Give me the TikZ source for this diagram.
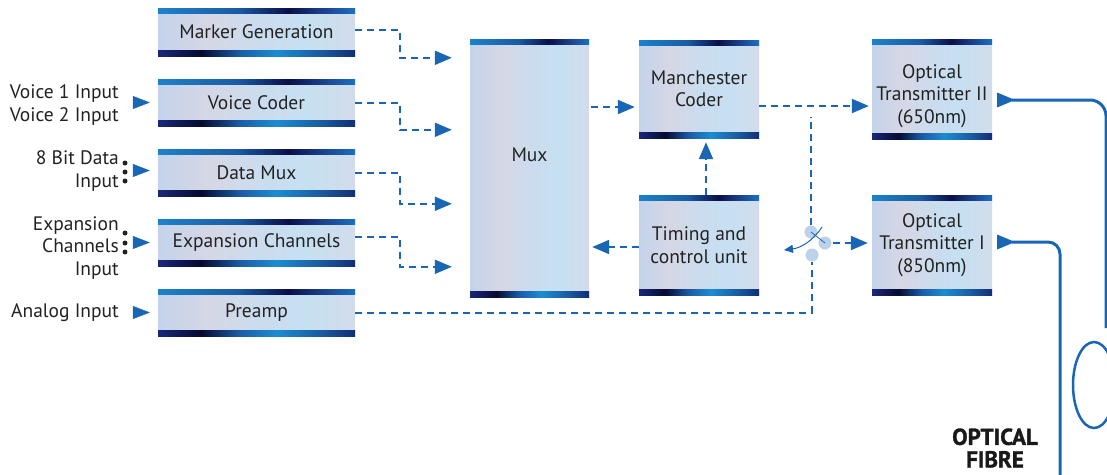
\documentclass[tikz,border=0pt]{standalone}
\usepackage{fontspec}
\setmainfont{PT Sans}
\newfontfamily\heavyfont{PT Sans}[BoldFeatures={FakeBold=1.4}]
\usetikzlibrary{arrows.meta,calc}
\definecolor{lineblue}{HTML}{1866B4}
\definecolor{textgray}{HTML}{222222}
\definecolor{swblue}{HTML}{BCD2EA}
\definecolor{tbA}{HTML}{1C82CA}
\definecolor{tbB}{HTML}{1A5CA4}
\definecolor{tbC}{HTML}{0A0F48}
\definecolor{tbD}{HTML}{1A3C86}
\definecolor{tbE}{HTML}{1C70C2}
\definecolor{bbA}{HTML}{1A2878}
\definecolor{bbB}{HTML}{060A30}
\definecolor{bbC}{HTML}{1A5EA8}
\definecolor{bbD}{HTML}{1C8CD2}
\definecolor{bbE}{HTML}{1A5CA0}
\definecolor{bbF}{HTML}{122E74}
\definecolor{bdA}{HTML}{C4D3EA}
\definecolor{bdB}{HTML}{D6D7E5}
\definecolor{bdC}{HTML}{CBDCEE}
\definecolor{bdD}{HTML}{C6E0F2}
\definecolor{bdE}{HTML}{D2DCEB}
\pgfdeclarehorizontalshading{topbar}{100bp}{color(0bp)=(tbA); color(25bp)=(tbA); color(45bp)=(tbB); color(58bp)=(tbC); color(66bp)=(tbD); color(75bp)=(tbE); color(100bp)=(tbE)}
\pgfdeclarehorizontalshading{botbar}{100bp}{color(0bp)=(bbA); color(25bp)=(bbA); color(36bp)=(bbB); color(46bp)=(bbC); color(55bp)=(bbD); color(66bp)=(bbE); color(75bp)=(bbF); color(100bp)=(bbF)}
\pgfdeclarehorizontalshading{boxbody}{100bp}{color(0bp)=(bdA); color(25bp)=(bdA); color(38bp)=(bdB); color(50bp)=(bdC); color(62bp)=(bdD); color(75bp)=(bdE); color(100bp)=(bdE)}
\tikzset{
  box/.style={shading=boxbody, inner sep=0pt, text=textgray, align=center,
    font=\fontsize{19.5}{22.5}\selectfont,
    path picture={
      \fill[shading=topbar] (path picture bounding box.north west) rectangle ([yshift=-5.5pt]path picture bounding box.north east);
      \fill[shading=botbar] ([yshift=5.5pt]path picture bounding box.south west) rectangle (path picture bounding box.south east);
    }},
  lbox/.style={box, minimum width=197pt, minimum height=47pt},
  dline/.style={draw=lineblue, line width=2pt, dash pattern=on 7pt off 5pt},
  darrow/.style={dline, -{Triangle[length=17pt,width=14pt]}},
  intip/.style={draw=lineblue, fill=lineblue, line width=0.4pt, -{Triangle[length=17pt,width=13pt]}},
  intext/.style={text=textgray, font=\fontsize{19.5}{22.5}\selectfont, inner sep=0pt},
  fibre/.style={draw=lineblue, line width=3pt},
  swc/.style={circle, fill=swblue, minimum size=13pt, inner sep=0pt},
  dot/.style={circle, fill=textgray, minimum size=5pt, inner sep=0pt}
}
\begin{document}
\begin{tikzpicture}[x=1pt,y=-1pt]
\useasboundingbox (0,0) rectangle (1107,474);
\clip (0,0) rectangle (1107,474);
% left column
\node[lbox, minimum height=48pt] (mg) at (256.5,32) {Marker Generation};
\node[lbox] (vc) at (256.5,102.5) {Voice Coder};
\node[lbox] (dm) at (256.5,172.5) {Data Mux};
\node[lbox] (ec) at (256.5,242.5) {Expansion Channels};
\node[lbox] (pa) at (256.5,312.5) {Preamp};
% middle
\node[box, minimum width=119pt, minimum height=258pt] (mux) at (529.5,168) {};
\node[intext] (muxt) at (529.5,155) {Mux};
\node[box, minimum width=120pt, minimum height=98pt] (mc) at (699,89) {Manchester\\Coder};
\node[box, minimum width=120pt, minimum height=100pt] (tc) at (699,245) {Timing and\\control unit};
\node[box, minimum width=120pt, minimum height=100pt] (t2) at (932,89) {};
\node[intext, align=center] (t2t) at (932,96) {Optical\\Transmitter II\\(650nm)};
\node[box, minimum width=120pt, minimum height=100pt] (t1) at (932,245) {Optical\\Transmitter I\\(850nm)};
% inputs
\node[intext, anchor=east, align=left] (vin) at (119,105) {Voice 1 Input\\Voice 2 Input};
\node[intext, anchor=east, align=right] (din) at (119,171) {8 Bit Data\\Input};
\node[intext, anchor=east, align=right] (ein) at (119,248) {Expansion\\Channels\\Input};
\node[intext, anchor=east] (ain) at (119,313) {Analog Input};
\node[dot] (d1) at (125,163) {};
\node[dot] (d2) at (125,172) {};
\node[dot] (d3) at (125,181) {};
\node[dot] (e1) at (125,233) {};
\node[dot] (e2) at (125,243) {};
\node[dot] (e3) at (125,252) {};
\draw[intip, shorten >=8pt] ($(vc.west)+(-25,0)$) -- (vc.west);
\draw[intip, shorten >=8pt] ($(dm.west)+(-25,-2)$) -- ($(dm.west)+(0,-2)$);
\draw[intip, shorten >=8pt] ($(ec.west)+(-25,0)$) -- (ec.west);
\draw[intip, shorten >=8pt] ($(pa.west)+(-25,0)$) -- (pa.west);
% left column to mux
\draw[darrow, shorten >=18pt] ([yshift=2pt]mg.east) -- ++(45,0) |- ([yshift=-19pt]mux.north west);
\draw[darrow, shorten >=18pt] (vc.east) -- ++(45,0) |- ([yshift=-91pt]mux.north west);
\draw[darrow, shorten >=18pt] (dm.east) -- ++(45,0) |- ([yshift=-165pt]mux.north west);
\draw[darrow, shorten >=18pt] ([yshift=6pt]ec.east) -- ++(45,0) |- ([yshift=-228pt]mux.north west);
% middle connections
\coordinate (mcin) at ([yshift=-18pt]mc.west);
\draw[darrow, shorten <=2pt, shorten >=4pt] (mux.east |- mcin) -- (mcin);
\draw[darrow, shorten >=4pt] ([xshift=7pt]tc.north) -- ([xshift=7pt]mc.south);
\draw[darrow, shorten >=3pt] ([yshift=-2pt]tc.west) -- ([yshift=-2pt]mux.east |- tc.west);
\coordinate (t2in) at ([yshift=-17pt]t2.west);
\draw[darrow, shorten >=3pt] (mc.east |- t2in) -- (t2in);
% switch
\node[swc] (swt) at (811,232) {};
\node[swc] (swr) at (825,243) {};
\node[swc] (swb) at (812,255) {};
\coordinate (swtop) at (811,117);
\draw[dline] (pa.east) -| (swb.south);
\draw[dline] (swt.north) -- (swtop);
\draw[darrow, shorten >=4pt, shorten <=1pt] (swr.east) -- (t1.west |- swr.east);
\coordinate (lvA) at (822,227);
\coordinate (lvB) at (784,250);
\draw[lineblue, line width=1pt, -{Triangle[length=9pt,width=8pt]}] (lvA) .. controls (812,242) and (800,248) .. (lvB);
\draw[lineblue, line width=0.8pt] (swt.center) -- (swr.center);
% fibres
\coordinate (t2out) at ([yshift=-11pt]t2.east);
\coordinate (t1out) at ([yshift=3pt]t1.east);
\coordinate (f1a) at (1106,100);
\coordinate (f1b) at (1106,328);
\coordinate (f2a) at (1060,242);
\coordinate (f2b) at (1060,480);
\draw[fibre, -{Triangle[length=18pt,width=14pt]}] ([xshift=5pt]t2out) -- ([xshift=23pt]t2out);
\draw[fibre, rounded corners=16pt] ([xshift=20pt]t2out) -- (f1a) -- (f1b);
\draw[fibre, -{Triangle[length=18pt,width=14pt]}] ([xshift=5pt]t1out) -- ([xshift=23pt]t1out);
\draw[fibre, rounded corners=12pt] ([xshift=20pt]t1out) -- (f2a) -- (f2b);
\draw[lineblue, line width=2.5pt] (1094,385) ellipse [x radius=21, y radius=43];
\node[text=black!90, font=\fontsize{23}{22.5}\selectfont\heavyfont\bfseries, align=center, inner sep=0pt] (of) at (995,448) {OPTICAL\\FIBRE};
\end{tikzpicture}
\end{document}
